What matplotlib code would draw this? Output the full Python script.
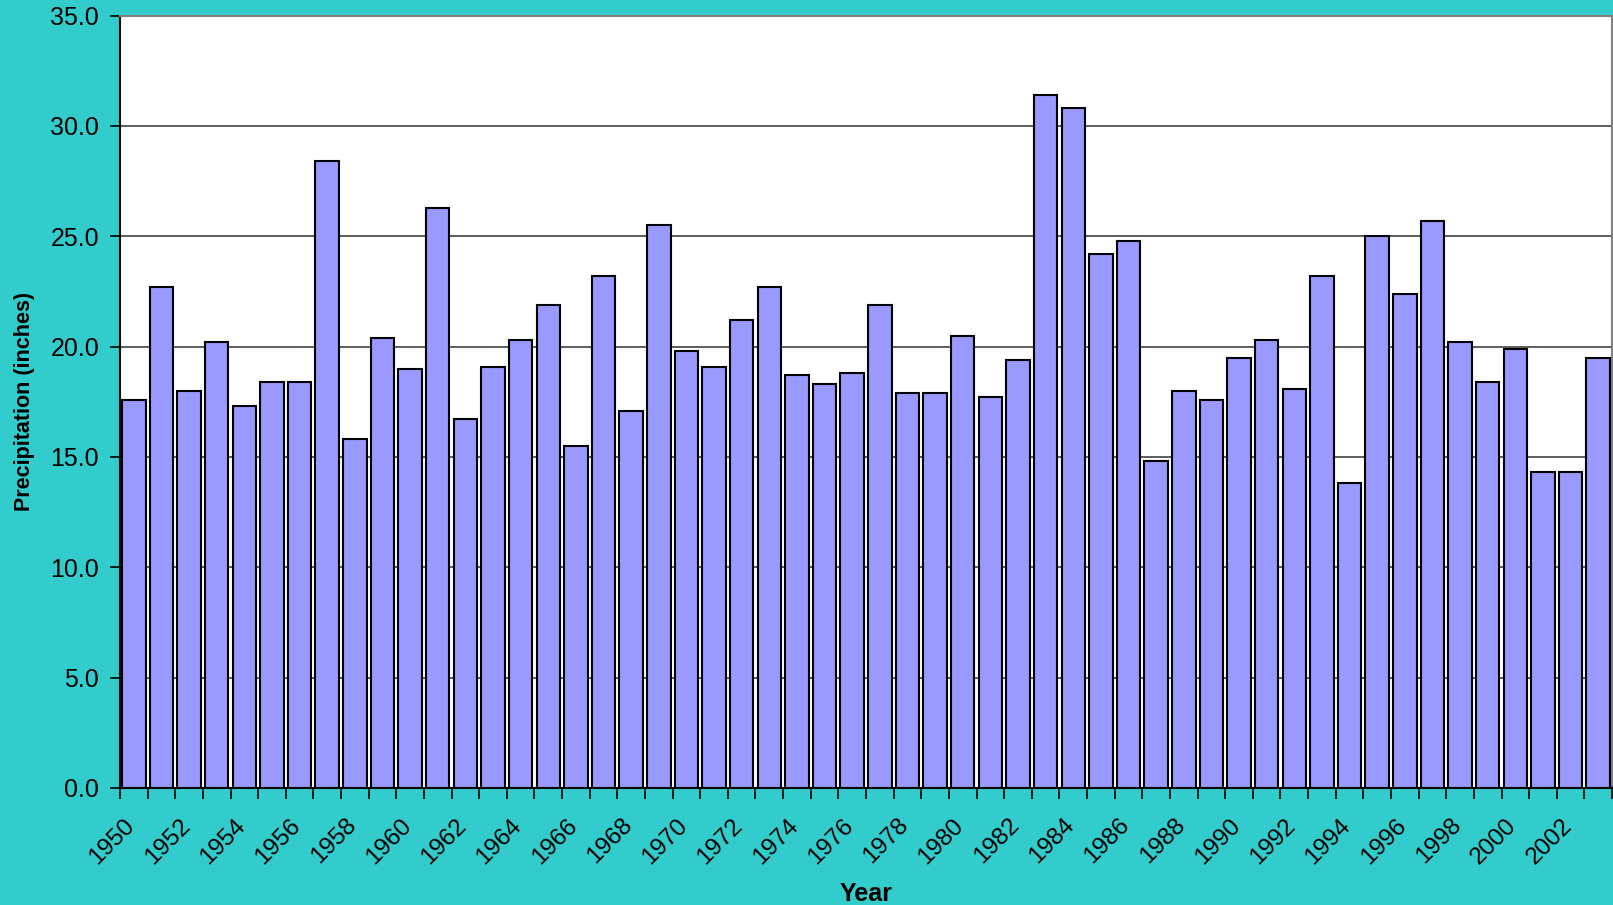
import numpy as np
import matplotlib.pyplot as plt

plt.rcParams['font.family'] = ['Liberation Sans', 'DejaVu Sans']

years = list(range(1950, 2004))
precip = [17.6, 22.7, 18.0, 20.2, 17.3, 18.4, 18.4, 28.4, 15.8, 20.4,
          19.0, 26.3, 16.7, 19.1, 20.3, 21.9, 15.5, 23.2, 17.1, 25.5,
          19.8, 19.1, 21.2, 22.7, 18.7, 18.3, 18.8, 21.9, 17.9, 17.9,
          20.5, 17.7, 19.4, 31.4, 30.8, 24.2, 24.8, 14.8, 18.0, 17.6,
          19.5, 20.3, 18.1, 23.2, 13.8, 25.0, 22.4, 25.7, 20.2, 18.4,
          19.9, 14.3, 14.3, 19.5]
yticks = np.arange(0, 35.1, 5.0)

bg = '#33CCCC'
fig = plt.figure(figsize=(16.13, 9.05), dpi=100, facecolor=bg)
ax = fig.add_axes([0.0744, 0.1293, 0.9250, 0.8534])
ax.set_facecolor('white')

x = np.arange(len(years))
ax.bar(x, precip, width=0.85, color='#9999FF', edgecolor='black', linewidth=1.5, zorder=3)

ax.set_xlim(-0.5, len(years) - 0.5)
ax.set_ylim(0, 35)
ax.set_yticks(yticks)
ax.set_yticklabels([f'{v:.1f}' for v in yticks], fontsize=18)
ax.yaxis.grid(True, color='#505050', linewidth=1.3, zorder=1)

# labels every other year (anchored a bit left of the bar centre),
# tick marks at category boundaries
ax.set_xticks(x[::2] - 0.36)
ax.set_xticklabels([str(y) for y in years[::2]], rotation=45, ha='right', va='top',
                   rotation_mode='anchor', fontsize=17.5)
ax.set_xticks(np.arange(-0.5, len(years)), minor=True)
ax.tick_params(axis='x', which='major', length=0, pad=19)
ax.tick_params(axis='x', which='minor', length=8, width=1.2, direction='out')
ax.tick_params(axis='y', length=7, width=1.2, direction='out', pad=8)

for s in ['left', 'bottom']:
    ax.spines[s].set_color('black')
    ax.spines[s].set_linewidth(1.5)
for s in ['top', 'right']:
    ax.spines[s].set_color('#808080')
    ax.spines[s].set_linewidth(1.5)

ax.set_xlabel('Year', fontsize=18, fontweight='bold', labelpad=10)
ax.set_ylabel('Precipitation (inches)', fontsize=15.5, fontweight='bold', labelpad=11)

fig.savefig('out.png', dpi=100, facecolor=bg)
